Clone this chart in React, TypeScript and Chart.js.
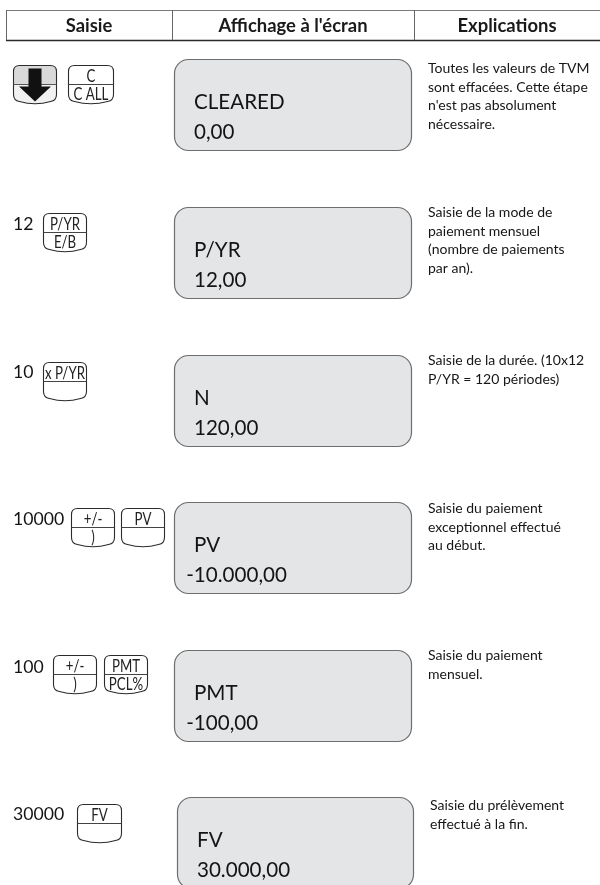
import React, { useEffect, useRef } from "react";
import { Chart, registerables } from "chart.js";

Chart.register(...registerables);

// ---- content (data) ----
const HEADERS = ["Saisie", "Affichage à l'écran", "Explications"];
const ENTRY_NUMBERS = ["", "12", "10", "10000", "100", "30000"];
const KEY_TOP_LABELS = [["ARROW", "C"], ["P/YR"], ["x P/YR"], ["+/-", "PV"], ["+/-", "PMT"], ["FV"]];
const KEY_BOTTOM_LABELS = [["", "C ALL"], ["E/B"], [""], [")", ""], [")", "PCL%"], [""]];
const DISPLAY_LINE1 = ["CLEARED", "P/YR", "N", "PV", "PMT", "FV"];
const DISPLAY_LINE2 = ["0,00", "12,00", "120,00", "-10.000,00", "-100,00", "30.000,00"];
const EXPLANATIONS = [
  ["Toutes les valeurs de TVM", "sont effacées. Cette étape", "n'est pas absolument", "nécessaire."],
  ["Saisie de la mode de", "paiement mensuel", "(nombre de paiements", "par an)."],
  ["Saisie de la durée. (10x12", "P/YR = 120 périodes)"],
  ["Saisie du paiement", "exceptionnel effectué", "au début."],
  ["Saisie du paiement", "mensuel."],
  ["Saisie du prélèvement", "effectué à la fin."],
];

// ---- layout (positions in page units) ----
const PAGE_W = 600;
const PAGE_H = 885;
const HEADER_TOP = 10;
const HEADER_BOTTOM = 40;
const HEADER_DIVIDERS = [6, 172, 414];
const ROW_TOP = [59, 207, 355, 502, 650, 797];
const BOX_LEFT = [174, 174, 174, 174, 174, 177];
const BOX_RIGHT = [411, 411, 411, 411, 411, 413];
const BOX_H = 91;
const KEY_X = [[13, 68], [43], [43], [71, 121], [53, 104], [77]];
const KEY_W = [[43, 45], [43], [43], [43, 43], [43, 43], [44]];
const KEY_DY = [6, 6, 7, 6, 5, 7];
const EXPL_DY = [14, 10, 10, 11, 10, 13];

const FONT = "Lato, 'Open Sans', 'DejaVu Sans', sans-serif";

function keyPath(ctx: CanvasRenderingContext2D, x: number, y: number, w: number, h: number, bulge: number, r: number) {
  ctx.beginPath();
  ctx.moveTo(x + r, y);
  ctx.lineTo(x + w - r, y);
  ctx.quadraticCurveTo(x + w, y, x + w, y + r);
  ctx.lineTo(x + w, y + h - r);
  ctx.quadraticCurveTo(x + w, y + h, x + w - r, y + h + 1);
  ctx.quadraticCurveTo(x + w / 2, y + h + bulge * 1.8, x + r, y + h + 1);
  ctx.quadraticCurveTo(x, y + h, x, y + h - r);
  ctx.lineTo(x, y + r);
  ctx.quadraticCurveTo(x, y, x + r, y);
  ctx.closePath();
}

function roundRect(ctx: CanvasRenderingContext2D, x: number, y: number, w: number, h: number, r: number) {
  ctx.beginPath();
  ctx.moveTo(x + r, y);
  ctx.lineTo(x + w - r, y);
  ctx.arcTo(x + w, y, x + w, y + r, r);
  ctx.lineTo(x + w, y + h - r);
  ctx.arcTo(x + w, y + h, x + w - r, y + h, r);
  ctx.lineTo(x + r, y + h);
  ctx.arcTo(x, y + h, x, y + h - r, r);
  ctx.lineTo(x, y + r);
  ctx.arcTo(x, y, x + r, y, r);
  ctx.closePath();
}

function scaledText(ctx: CanvasRenderingContext2D, text: string, x: number, y: number, sx: number, align: "left" | "center") {
  ctx.save();
  ctx.translate(x, y);
  ctx.scale(sx, 1);
  ctx.textAlign = align;
  ctx.fillText(text, 0, 0);
  ctx.restore();
}

const pagePlugin = {
  id: "pagePlugin",
  afterDraw(chart: any) {
    const ctx: CanvasRenderingContext2D = chart.ctx;
    const xs = chart.scales.x;
    const ys = chart.scales.y;
    const X = (v: number) => xs.getPixelForValue(v);
    const Y = (v: number) => ys.getPixelForValue(v);

    ctx.save();
    ctx.textBaseline = "alphabetic";

    // header
    ctx.strokeStyle = "#7a7a7a";
    ctx.lineWidth = 1;
    ctx.beginPath();
    ctx.moveTo(X(HEADER_DIVIDERS[0]), Y(HEADER_TOP) + 0.5);
    ctx.lineTo(X(PAGE_W), Y(HEADER_TOP) + 0.5);
    ctx.stroke();
    ctx.strokeStyle = "#2a2a2a";
    ctx.lineWidth = 1.4;
    ctx.beginPath();
    ctx.moveTo(X(HEADER_DIVIDERS[0]), Y(HEADER_BOTTOM) + 0.5);
    ctx.lineTo(X(PAGE_W), Y(HEADER_BOTTOM) + 0.5);
    ctx.stroke();
    ctx.strokeStyle = "#666";
    ctx.lineWidth = 1;
    HEADER_DIVIDERS.forEach((d) => {
      ctx.beginPath();
      ctx.moveTo(X(d) + 0.5, Y(HEADER_TOP));
      ctx.lineTo(X(d) + 0.5, Y(HEADER_BOTTOM));
      ctx.stroke();
    });
    ctx.fillStyle = "#1a1a1a";
    ctx.font = `bold 19px ${FONT}`;
    const cellEdges = [...HEADER_DIVIDERS, PAGE_W];
    HEADERS.forEach((h, i) => {
      const cx = (cellEdges[i] + cellEdges[i + 1]) / 2;
      scaledText(ctx, h, X(cx), Y(32), 0.97, "center");
    });

    // rows
    ROW_TOP.forEach((top, r) => {
      // display box
      const bl = BOX_LEFT[r];
      const br = BOX_RIGHT[r];
      roundRect(ctx, X(bl) + 0.5, Y(top) + 0.5, X(br) - X(bl), Y(top + BOX_H) - Y(top), 14);
      ctx.fillStyle = "#e4e5e7";
      ctx.fill();
      ctx.strokeStyle = "#6e6e6e";
      ctx.lineWidth = 1.2;
      ctx.stroke();

      ctx.fillStyle = "#141414";
      ctx.font = `21px ${FONT}`;
      const tx = bl + 20;
      const l1 = DISPLAY_LINE1[r];
      const l2 = DISPLAY_LINE2[r];
      const off1 = l1.startsWith("-") ? ctx.measureText("-").width : 0;
      const off2 = l2.startsWith("-") ? ctx.measureText("-").width : 0;
      scaledText(ctx, l1, X(tx) - off1, Y(top + 50), 0.98, "left");
      scaledText(ctx, l2, X(tx) - off2, Y(top + 80), 0.98, "left");

      // explanation
      ctx.font = `14px ${FONT}`;
      ctx.fillStyle = "#161616";
      EXPLANATIONS[r].forEach((line, li) => {
        scaledText(ctx, line, X(br + 17), Y(top + EXPL_DY[r] + li * 18.5), 1.0, "left");
      });

      // entry number
      if (ENTRY_NUMBERS[r]) {
        ctx.font = `18px ${FONT}`;
        ctx.fillStyle = "#141414";
        scaledText(ctx, ENTRY_NUMBERS[r], X(13), Y(top + 23), 0.98, "left");
      }

      // keys
      const ky = top + KEY_DY[r];
      KEY_TOP_LABELS[r].forEach((lab, k) => {
        const kx = X(KEY_X[r][k]) + 0.5;
        const kw = KEY_W[r][k];
        const kyp = Y(ky) + 0.5;
        const kh = 35;
        const div = 19;
        if (lab === "ARROW") {
          keyPath(ctx, kx, kyp, kw, kh, 3, 6);
          ctx.fillStyle = "#f1f1f1";
          ctx.fill();
          ctx.save();
          ctx.clip();
          ctx.fillStyle = "#d9d9d9";
          ctx.fillRect(kx, kyp, kw, div);
          ctx.restore();
          keyPath(ctx, kx, kyp, kw, kh, 3, 6);
          ctx.strokeStyle = "#2b2b2b";
          ctx.lineWidth = 1.1;
          ctx.stroke();
          ctx.beginPath();
          ctx.moveTo(kx, kyp + div);
          ctx.lineTo(kx + kw, kyp + div);
          ctx.strokeStyle = "#555";
          ctx.lineWidth = 1;
          ctx.stroke();
          // black arrow
          const cx = kx + kw / 2;
          ctx.fillStyle = "#111";
          ctx.beginPath();
          ctx.moveTo(cx - 6.5, kyp + 3);
          ctx.lineTo(cx + 6.5, kyp + 3);
          ctx.lineTo(cx + 6.5, kyp + 21);
          ctx.lineTo(cx + 16, kyp + 21);
          ctx.lineTo(cx, kyp + 36);
          ctx.lineTo(cx - 16, kyp + 21);
          ctx.lineTo(cx - 6.5, kyp + 21);
          ctx.closePath();
          ctx.fill();
          return;
        }
        keyPath(ctx, kx, kyp, kw, kh, 3, 6);
        ctx.fillStyle = "#ffffff";
        ctx.fill();
        ctx.strokeStyle = "#2b2b2b";
        ctx.lineWidth = 1.1;
        ctx.stroke();
        ctx.beginPath();
        ctx.moveTo(kx, kyp + div);
        ctx.lineTo(kx + kw, kyp + div);
        ctx.strokeStyle = "#444";
        ctx.lineWidth = 1;
        ctx.stroke();
        ctx.fillStyle = "#222";
        ctx.font = `17px ${FONT}`;
        scaledText(ctx, lab, kx + kw / 2, kyp + 16.5, 0.78, "center");
        const bottom = KEY_BOTTOM_LABELS[r][k];
        if (bottom) {
          scaledText(ctx, bottom, kx + kw / 2, kyp + 34.5, 0.78, "center");
        }
      });
    });

    ctx.restore();
  },
};

export default function App() {
  const canvasRef = useRef<HTMLCanvasElement | null>(null);

  useEffect(() => {
    if (!canvasRef.current) return;
    const chart = new Chart(canvasRef.current, {
      type: "scatter",
      data: { datasets: [{ data: [] as any[], pointRadius: 0 }] },
      options: {
        animation: false,
        responsive: false,
        maintainAspectRatio: false,
        layout: { padding: 0 },
        plugins: { legend: { display: false }, tooltip: { enabled: false } },
        events: [],
        scales: {
          x: { type: "linear", min: 0, max: PAGE_W, display: false },
          y: { type: "linear", min: 0, max: PAGE_H, reverse: true, display: false },
        },
      },
      plugins: [pagePlugin],
    });
    return () => chart.destroy();
  }, []);

  return (
    <div style={{ position: "absolute", left: 0, top: 0, width: PAGE_W, height: PAGE_H, background: "#fff" }}>
      <canvas ref={canvasRef} width={PAGE_W} height={PAGE_H} style={{ display: "block" }} />
    </div>
  );
}
